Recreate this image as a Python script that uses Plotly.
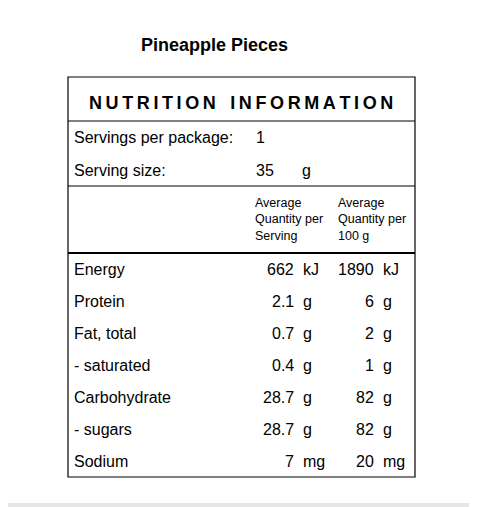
import plotly.graph_objects as go

title = "Pineapple Pieces"
header = "NUTRITION INFORMATION"
servings_per_package = "1"
serving_size = "35"
serving_unit = "g"
nutrients = ["Energy", "Protein", "Fat, total", "- saturated", "Carbohydrate", "- sugars", "Sodium"]
per_serving = ["662", "2.1", "0.7", "0.4", "28.7", "28.7", "7"]
per_100g = ["1890", "6", "2", "1", "82", "82", "20"]
units = ["kJ", "g", "g", "g", "g", "g", "mg"]
col_heads = ["Average<br>Quantity per<br>Serving", "Average<br>Quantity per<br>100 g"]

W, H = 477, 507
OFF = 8  # page body margin
fig = go.Figure()
F = "Liberation Sans, Arial"
ann = []
def t(x, y, s, size=16, anchor="left", bold=False, **kw):
    ann.append(dict(x=x, y=y, xref="x", yref="y", text=(f"<b>{s}</b>" if bold else s),
                    showarrow=False, xanchor=anchor, yanchor="middle",
                    font=dict(family=F, size=size, color="black"), **kw))

spaced = "\u2009".join(header).replace("\u2009 \u2009", "\u2009\u2009\u2009\u2009")
t(214, 45, title, 18, "center", True)
t(241, 103, spaced, 18, "center", True)
t(72, 137, "Servings per package:", 16)
t(254, 137, servings_per_package, 16)
t(72, 170, "Serving size:", 16)
t(254, 170, serving_size, 16)
t(300, 170, serving_unit, 16)
t(253, 219, col_heads[0], 12.5, align="left")
t(336, 219, col_heads[1], 12.5, align="left")
for i, n in enumerate(nutrients):
    y = 269 + 32 * i
    t(72, y, n, 16)
    t(296, y, per_serving[i], 16, "right")
    t(301, y, units[i], 16)
    t(376, y, per_100g[i], 16, "right")
    t(381, y, units[i], 16)

shapes = [dict(type="rect", x0=68, x1=415, y0=77, y1=477, line=dict(color="black", width=1.2))]
for y, w in [(121, 1), (186, 1), (253, 2)]:
    shapes.append(dict(type="line", x0=68, x1=415, y0=y, y1=y, line=dict(color="black", width=w)))
shapes.append(dict(type="line", x0=475, x1=475, y0=0, y1=507, line=dict(color="#e6e6e6", width=4)))
shapes.append(dict(type="line", x0=0, x1=477, y0=505, y1=505, line=dict(color="#e6e6e6", width=4)))

fig.update_layout(width=W, height=H, margin=dict(l=0, r=0, t=0, b=0),
                  paper_bgcolor="white", plot_bgcolor="white",
                  xaxis=dict(range=[OFF, W + OFF], visible=False, fixedrange=True),
                  yaxis=dict(range=[H + OFF, OFF], visible=False, fixedrange=True),
                  annotations=ann, shapes=shapes, showlegend=False)
fig.write_html("out.html")
